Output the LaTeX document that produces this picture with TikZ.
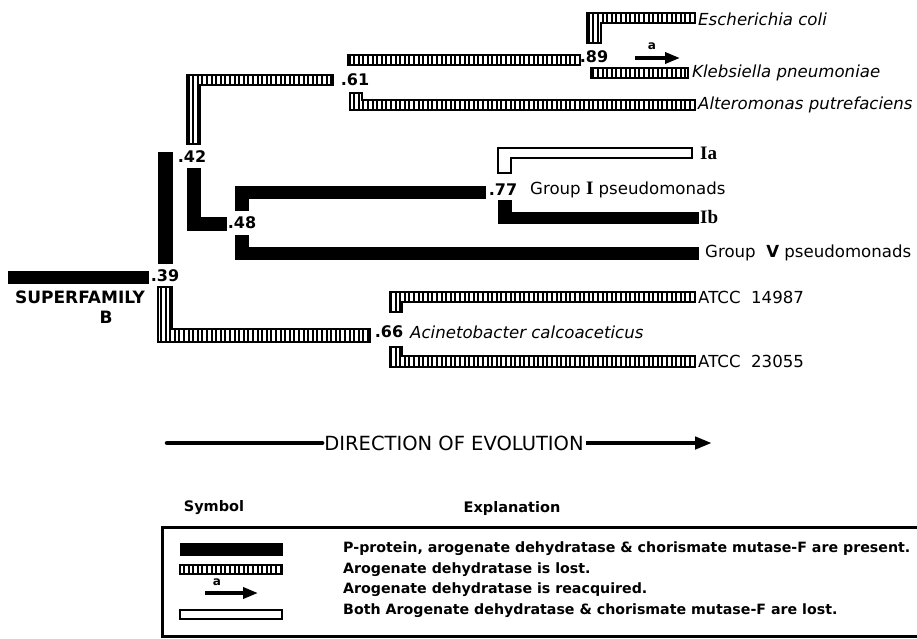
\documentclass[tikz,border=0pt]{standalone}
\usepackage{fontspec}
\setmainfont{DejaVu Sans}
\newfontfamily\serifbf{Liberation Serif}
\usetikzlibrary{arrows.meta,patterns.meta}
% L-shaped branch: style, x left, y start, y end, x end, width, thickness
\newcommand{\LUp}[7]{\draw[#1] (#2,#3) -- (#2,#4) -- (#5,#4) -- (#5,#4+#7) -- (#2+#6,#4+#7) -- (#2+#6,#3) -- cycle;}
\newcommand{\LDown}[7]{\draw[#1] (#2,#3) -- (#2+#6,#3) -- (#2+#6,#4-#7) -- (#5,#4-#7) -- (#5,#4) -- (#2,#4) -- cycle;}

\begin{document}
\begin{tikzpicture}[x=1pt,y=-1pt,
  solidbar/.style={fill=black,draw=black,line width=0.6pt},
  stripedbar/.style={draw=black,line width=1.6pt,pattern={Lines[angle=90,distance=4.6pt,line width=2pt]}},
  openbar/.style={draw=black,line width=1.4pt,fill=white},
  reacq/.style={line width=3.5pt,-{Triangle[length=15pt,width=11pt]}},
  num/.style={inner sep=0pt,font=\fontsize{16}{18}\selectfont\bfseries},
  taxon/.style={anchor=west,inner sep=0pt,font=\fontsize{16.6}{19}\selectfont\itshape},
  strain/.style={anchor=west,inner sep=0pt,font=\fontsize{16.6}{19}\selectfont},
  legtext/.style={anchor=west,inner sep=0pt,font=\fontsize{14.2}{16}\selectfont\bfseries}]
  \useasboundingbox (0,0) rectangle (917,638);
  \clip (0,0) rectangle (917,638);
  % branch points
  \node[num] (n39) at (165,276) {.39};
  \node[num] (n42) at (192,157) {.42};
  \node[num] (n48) at (242,223) {.48};
  \node[num] (n61) at (355,80) {.61};
  \node[num] (n89) at (594,57) {.89};
  \node[num] (n77) at (503,190) {.77};
  \node[num] (n66) at (389,332) {.66};
  % root
  \draw[solidbar] (8,271) rectangle (148,283);
  \node[font=\fontsize{17}{19}\selectfont\bfseries,inner sep=0pt] (sf) at (80,297) {SUPERFAMILY};
  \node[font=\fontsize{17}{19}\selectfont\bfseries,inner sep=0pt] (sfb) at (106,317) {B};
  \draw[solidbar] (158,152) rectangle (172,263);
  % upper group
  \LUp{stripedbar}{187}{144}{75}{333}{13}{10}
  \draw[stripedbar] (348,55) rectangle (580,65);
  \LUp{stripedbar}{587}{43}{13}{695}{14}{10}
  \draw[stripedbar] (591,68) rectangle (688,78);
  \draw[reacq] (635,58) -- (680,58);
  \node[inner sep=0pt,font=\fontsize{12}{14}\selectfont\bfseries] (ra) at (652,46) {a};
  \LDown{stripedbar}{350}{93}{110}{695}{12}{10}
  \node[taxon] (ecoli) at (698,19) {Escherichia coli};
  \node[taxon] (kpneu) at (692,73) {Klebsiella pneumoniae};
  \node[taxon] (aputr) at (698,105) {Alteromonas putrefaciens};
  % pseudomonads
  \LDown{solidbar}{187}{168}{230}{226}{13}{13}
  \LUp{solidbar}{235}{210}{186}{485}{13}{12}
  \LDown{solidbar}{235}{235}{259}{698}{13}{12}
  \LUp{openbar}{498}{173}{148}{692}{13}{10}
  \LDown{solidbar}{498}{200}{223}{698}{13}{11}
  \node[strain,font=\fontsize{19}{21}\selectfont] (ia) at (700,153) {\serifbf\bfseries Ia};
  \node[strain] (gi) at (530,190) {Group {\serifbf\bfseries\fontsize{19}{21}\selectfont I} pseudomonads};
  \node[strain,font=\fontsize{19}{21}\selectfont] (ib) at (700,217) {\serifbf\bfseries Ib};
  \node[strain] (gv) at (705,253) {Group~~\textbf{V} pseudomonads};
  % acinetobacter
  \LDown{stripedbar}{158}{287}{342}{370}{14}{13}
  \LUp{stripedbar}{390}{312}{292}{695}{12}{10}
  \LDown{stripedbar}{390}{347}{367}{695}{12}{11}
  \node[strain] (a14) at (698,297) {ATCC~~14987};
  \node[taxon] (acal) at (410,332) {Acinetobacter calcoaceticus};
  \node[strain] (a23) at (698,361) {ATCC~~23055};
  % direction
  \node[inner sep=2pt,font=\fontsize{19.5}{21}\selectfont] (dir) at (454,443) {DIRECTION OF EVOLUTION};
  \coordinate (dl) at (167,443);
  \coordinate (dr) at (712,443);
  \draw[line width=4.5pt,line cap=round] (dl) -- (dir.west);
  \draw[line width=4.5pt,-{Triangle[length=17pt,width=12pt]}] (dir.east) -- (dr);
  % legend
  \node[font=\fontsize{14.5}{16}\selectfont\bfseries,inner sep=0pt] (hsym) at (214,508) {Symbol};
  \node[font=\fontsize{14.5}{16}\selectfont\bfseries,inner sep=0pt] (hexp) at (512,508) {Explanation};
  \draw[line width=3pt] (162,527) rectangle (940,636);
  \draw[solidbar] (180,543) rectangle (282,555);
  \draw[stripedbar] (180,565) rectangle (282,574);
  \draw[reacq] (205,593) -- (258,593);
  \node[inner sep=0pt,font=\fontsize{12}{14}\selectfont\bfseries] (la) at (217,582) {a};
  \draw[openbar] (180,610) rectangle (282,619);
  \node[legtext] (l1) at (343,549) {P-protein, arogenate dehydratase \& chorismate mutase-F are present.};
  \node[legtext] (l2) at (343,570) {Arogenate dehydratase is lost.};
  \node[legtext] (l3) at (343,590) {Arogenate dehydratase is reacquired.};
  \node[legtext] (l4) at (343,611) {Both Arogenate dehydratase \& chorismate mutase-F are lost.};
\end{tikzpicture}
\end{document}
